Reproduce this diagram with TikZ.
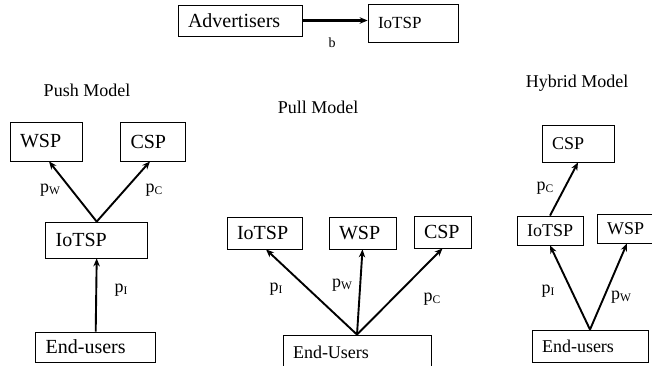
\documentclass[tikz,border=0pt]{standalone}
\usepackage{fontspec}
\setmainfont{Liberation Serif}
\usetikzlibrary{arrows.meta}
\newcommand{\plab}[1]{p\raisebox{-0.3ex}{\fontsize{11.5}{12}\selectfont #1}}
\begin{document}
\begin{tikzpicture}[x=1pt,y=-1pt,
  box/.style={draw, line width=0.8pt, inner xsep=10pt, inner ysep=0pt, align=left, font=\fontsize{20}{22}\selectfont},
  sbox/.style={box, font=\fontsize{18}{20}\selectfont},
  arr/.style={line width=1.9pt, -{Stealth[length=8pt,width=6.5pt]}},
  lab/.style={font=\fontsize{18}{20}\selectfont, inner sep=0pt},
  ttl/.style={font=\fontsize{18}{20}\selectfont, inner sep=0pt}]
\useasboundingbox (0,0) rectangle (652,366);
% top
\node[box, minimum width=124pt, minimum height=31pt, text width=104pt] (adv) at (240,20.5) {Advertisers};
\node[box, font=\fontsize{17}{19}\selectfont, minimum width=88pt, minimum height=38pt, text width=70pt] (tiot) at (413,23) {IoTSP};
\draw[arr, line width=2.3pt] (adv.east) -- (adv.east -| tiot.west);
\node[lab, font=\fontsize{14}{16}\selectfont] (b) at (332,43) {b};
% push
\node[ttl] (pusht) at (87,90) {Push Model};
\node[box, minimum width=72pt, minimum height=39pt, text width=52pt] (pwsp) at (46,141.5) {WSP};
\node[box, minimum width=65pt, minimum height=39pt, text width=45pt] (pcsp) at (153,141.5) {CSP};
\node[box, minimum width=102pt, minimum height=36pt, text width=82pt] (piot) at (96.7,240) {IoTSP};
\node[box, minimum width=120pt, minimum height=30pt, text width=100pt] (pend) at (95.7,347) {End-users};
\draw[arr] (piot.north) -- ([xshift=3pt]pwsp.south);
\draw[arr] (piot.north) -- ([xshift=-3pt]pcsp.south);
\draw[arr] (pend.north) -- (piot.south);
\node[lab] (ppw) at (50,190) {\plab{W}};
\node[lab] (ppc) at (154,190) {\plab{C}};
\node[lab] (ppi) at (121,290) {\plab{I}};
% pull
\node[ttl] (pullt) at (318,107) {Pull Model};
\node[box, minimum width=75pt, minimum height=32pt, text width=55pt] (liot) at (264.5,233) {IoTSP};
\node[box, minimum width=67pt, minimum height=32pt, text width=47pt] (lwsp) at (362.5,233) {WSP};
\node[box, minimum width=57pt, minimum height=32pt, text width=37pt] (lcsp) at (442.5,232) {CSP};
\node[box, font=\fontsize{18}{20}\selectfont, minimum width=148pt, minimum height=34pt, text width=128pt] (lend) at (357,352) {End-Users};
\draw[arr] (lend.north) -- ([xshift=1.5pt]liot.south);
\draw[arr] (lend.north) -- (lwsp.south);
\draw[arr] (lend.north) -- (lcsp.south);
\node[lab] (lpi) at (276,289) {\plab{I}};
\node[lab] (lpw) at (342,285) {\plab{W}};
\node[lab] (lpc) at (432,299) {\plab{C}};
% hybrid
\node[ttl] (hybt) at (577,83) {Hybrid Model};
\node[sbox, minimum width=72pt, minimum height=37pt, text width=52pt] (hcsp) at (578,143.5) {CSP};
\node[sbox, minimum width=66pt, minimum height=29pt, text width=46pt] (hiot) at (550,230.5) {IoTSP};
\node[sbox, minimum width=57pt, minimum height=29pt, text width=37pt] (hwsp) at (625.5,228.5) {WSP};
\node[sbox, minimum width=116pt, minimum height=32pt, text width=96pt] (hend) at (590,346) {End-users};
\draw[arr] (hiot.north) -- (hcsp.south);
\draw[arr] (hend.north) -- (hiot.south);
\draw[arr] (hend.north) -- ([xshift=1.5pt]hwsp.south);
\node[lab] (hpc) at (545,188) {\plab{C}};
\node[lab] (hpi) at (548,291) {\plab{I}};
\node[lab] (hpw) at (621,297) {\plab{W}};
\end{tikzpicture}
\end{document}
